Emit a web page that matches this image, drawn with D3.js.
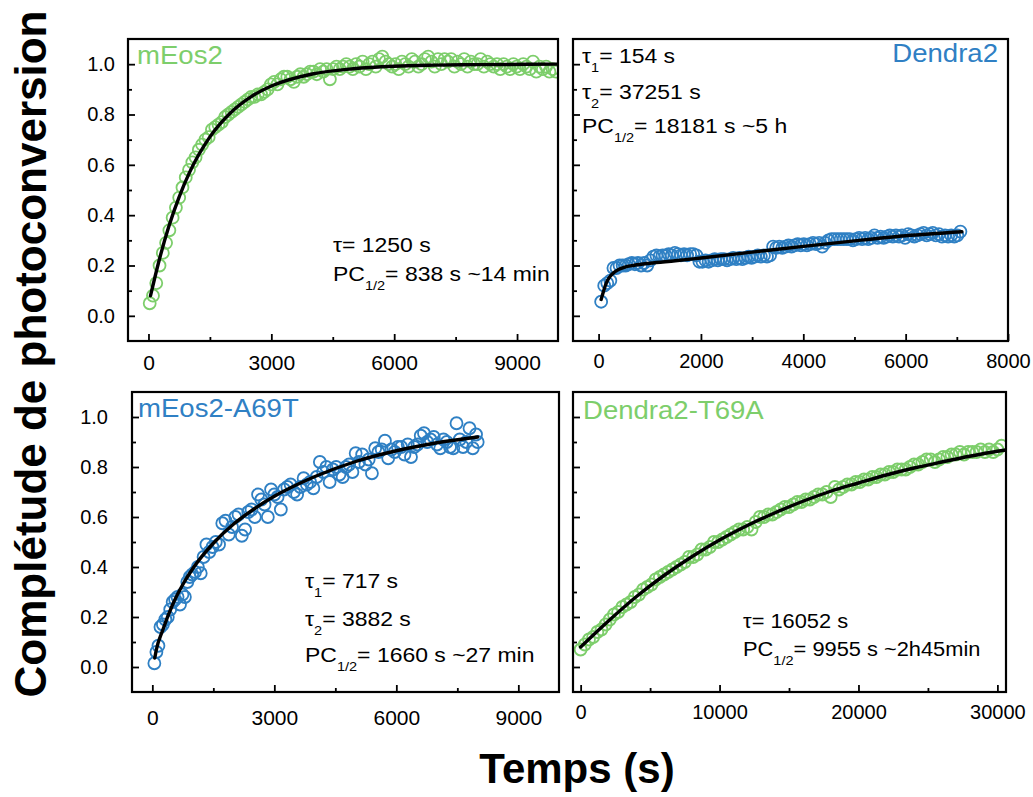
<!DOCTYPE html>
<html><head><meta charset="utf-8">
<script src="https://cdn.jsdelivr.net/npm/d3@7"></script>
<style>body{margin:0;background:#fff}</style>
</head><body>
<svg id="chart" width="1033" height="797"></svg>
<script>
// ---------------- DATA ----------------
const panelTitles = ["mEos2", "Dendra2", "mEos2-A69T", "Dendra2-T69A"];
const yMajorTicks = [0, 0.2, 0.4, 0.6, 0.8, 1.0];
const yMinorTicks = [0.1, 0.3, 0.5, 0.7, 0.9];
const xMajor1 = [0, 3000, 6000, 9000];
const xMinor1 = [1500, 4500, 7500];
const xMajor2 = [0, 2000, 4000, 6000, 8000];
const xMinor2 = [1000, 3000, 5000, 7000];
const xMajor3 = [0, 3000, 6000, 9000];
const xMinor3 = [1500, 4500, 7500];
const xMajor4 = [0, 10000, 20000, 30000];
const xMinor4 = [5000, 15000, 25000];
const xAxisLabel = "Temps (s)";
const yAxisLabel = "Complétude de photoconversion";

// annotations: [text, isSubscript]
const notes1 = [[["τ",0],["= 1250 s",0]], [["PC",0],["1/2",1],["= 838 s ~14 min",0]]];
const notes2 = [[["τ",0],["1",1],["= 154 s",0]], [["τ",0],["2",1],["= 37251 s",0]], [["PC",0],["1/2",1],["= 18181 s ~5 h",0]]];
const notes3 = [[["τ",0],["1",1],["= 717 s",0]], [["τ",0],["2",1],["= 3882 s",0]], [["PC",0],["1/2",1],["= 1660 s ~27 min",0]]];
const notes4 = [[["τ",0],["= 16052 s",0]], [["PC",0],["1/2",1],["= 9955 s ~2h45min",0]]];

// mEos2
const mEos2_t = [30,110,190,270,350,430,510,590,670,750,830,910,990,1070,1150,1230,1310,1390,1470,1550,1630,1710,1790,1870,1950,2030,2110,2190,2270,2350,2430,2510,2590,2670,2750,2830,2910,2990,3070,3150,3230,3310,3390,3470,3550,3630,3710,3790,3870,3950,4030,4110,4190,4270,4350,4430,4510,4590,4670,4750,4830,4910,4990,5070,5150,5230,5310,5390,5470,5550,5630,5710,5790,5870,5950,6030,6110,6190,6270,6350,6430,6510,6590,6670,6750,6830,6910,6990,7070,7150,7230,7310,7390,7470,7550,7630,7710,7790,7870,7950,8030,8110,8190,8270,8350,8430,8510,8590,8670,8750,8830,8910,8990,9070,9150,9230,9310,9390,9470,9550,9630,9710,9790,9870,9950];
const mEos2_v = [0.05,0.08,0.13,0.20,0.25,0.29,0.34,0.39,0.43,0.47,
0.51,0.55,0.58,0.61,0.63,0.66,0.68,0.70,0.71,0.74,
0.75,0.76,0.77,0.79,0.80,0.81,0.82,0.83,0.84,0.85,
0.86,0.87,0.87,0.88,0.88,0.89,0.90,0.92,0.93,0.92,
0.94,0.95,0.95,0.94,0.93,0.95,0.96,0.95,0.96,0.97,
0.97,0.96,0.98,0.97,0.98,0.94,0.98,0.99,0.98,0.99,
1.00,0.99,0.98,1.00,0.99,1.01,0.98,1.00,1.01,0.99,
1.02,1.03,1.01,1.00,0.99,1.00,0.98,1.01,1.00,0.99,
1.02,1.01,0.99,1.00,1.02,1.03,1.01,0.99,1.02,1.00,
1.02,1.01,1.02,0.99,1.01,1.00,1.02,0.99,1.01,1.00,
1.00,1.02,0.99,1.01,1.00,0.99,1.00,0.98,1.00,0.99,
0.98,1.00,0.99,0.98,1.00,0.99,0.98,1.01,0.97,0.99,
0.98,0.99,0.97,0.98,0.97];
const mEos2_fit_t = [50,250,500,750,1000,1500,2000,2500,3000,4000,5000,6000,7000,8000,10000];
const mEos2_fit_v = [0.08,0.214,0.357,0.473,0.569,0.711,0.806,0.870,0.913,0.961,0.982,0.992,0.996,0.998,1.0];

// Dendra2
const dendra2_t = [50,110,170,230,290,350,410,470,530,590,650,710,770,830,890,950,1010,1070,1130,1190,1250,1310,1370,1430,1490,1550,1610,1670,1730,1790,1850,1910,1970,2030,2090,2150,2210,2270,2330,2390,2450,2510,2570,2630,2690,2750,2810,2870,2930,2990,3050,3110,3170,3230,3290,3350,3410,3470,3530,3590,3650,3710,3770,3830,3890,3950,4010,4070,4130,4190,4250,4310,4370,4430,4490,4550,4610,4670,4730,4790,4850,4910,4970,5030,5090,5150,5210,5270,5330,5390,5450,5510,5570,5630,5690,5750,5810,5870,5930,5990,6050,6110,6170,6230,6290,6350,6410,6470,6530,6590,6650,6710,6770,6830,6890,6950,7010,7070];
const dendra2_v = [0.056,0.12,0.13,0.14,0.19,0.19,0.20,0.20,0.20,0.205,
0.21,0.205,0.21,0.20,0.21,0.20,0.22,0.235,0.24,0.235,
0.24,0.24,0.245,0.24,0.25,0.245,0.24,0.245,0.24,0.245,
0.245,0.24,0.215,0.215,0.22,0.215,0.22,0.225,0.22,0.225,
0.225,0.22,0.225,0.23,0.225,0.23,0.225,0.23,0.235,0.23,
0.235,0.24,0.235,0.24,0.235,0.24,0.275,0.27,0.275,0.27,
0.275,0.28,0.275,0.28,0.285,0.28,0.285,0.28,0.285,0.29,
0.285,0.29,0.275,0.29,0.30,0.305,0.305,0.305,0.305,0.305,
0.305,0.305,0.30,0.305,0.31,0.305,0.31,0.305,0.31,0.32,
0.31,0.315,0.31,0.315,0.32,0.315,0.32,0.315,0.32,0.31,
0.325,0.32,0.315,0.32,0.325,0.33,0.32,0.325,0.33,0.32,
0.325,0.315,0.32,0.315,0.32,0.315,0.32,0.335];
const dendra2_fit_t = [50,100,150,200,300,400,500,700,1000,1500,2000,3000,4000,5000,6000,7100];
const dendra2_fit_v = [0.065,0.10,0.13,0.15,0.172,0.185,0.193,0.201,0.209,0.219,0.23,0.253,0.276,0.298,0.318,0.334];

// mEos2-A69T
const a69t_t = [50,100,150,200,260,320,380,440,500,560,620,680,740,800,860,920,980,1050,1120,1190,1260,1330,1400,1480,1560,1640,1720,1800,1880,1960,2040,2120,2200,2280,2360,2440,2520,2600,2680,2760,2840,2920,3000,3080,3160,3240,3320,3400,3480,3560,3640,3720,3800,3880,3960,4040,4120,4200,4280,4360,4440,4520,4600,4680,4760,4840,4920,5000,5080,5160,5240,5320,5400,5480,5560,5640,5720,5800,5880,5960,6040,6120,6200,6280,6360,6440,6520,6600,6680,6760,6840,6920,7000,7080,7160,7240,7320,7400,7480,7560,7640,7720,7800,7880,7960,8000];
const a69t_v = [0.015,0.06,0.085,0.16,0.17,0.19,0.20,0.23,0.26,0.27,
0.28,0.25,0.29,0.28,0.34,0.36,0.37,0.38,0.40,0.375,
0.44,0.49,0.46,0.48,0.50,0.49,0.575,0.585,0.53,0.56,
0.60,0.61,0.525,0.55,0.62,0.63,0.60,0.69,0.67,0.65,
0.60,0.71,0.69,0.68,0.63,0.71,0.72,0.73,0.70,0.69,
0.72,0.755,0.73,0.74,0.715,0.76,0.82,0.78,0.80,0.74,
0.79,0.80,0.77,0.76,0.80,0.81,0.78,0.855,0.82,0.85,
0.81,0.83,0.775,0.875,0.86,0.87,0.905,0.835,0.87,0.86,
0.88,0.88,0.85,0.89,0.84,0.88,0.89,0.925,0.935,0.90,
0.91,0.92,0.89,0.875,0.91,0.90,0.88,0.875,0.975,0.91,
0.88,0.90,0.955,0.875,0.93,0.90];
const a69t_fit_t = [60,100,250,500,750,1000,1500,2000,2500,3000,3500,4000,5000,6000,7000,8000];
const a69t_fit_v = [0.036,0.07,0.145,0.25,0.33,0.395,0.495,0.572,0.632,0.683,0.725,0.762,0.822,0.865,0.897,0.92];

// Dendra2-T69A
const t69a_t = [0,300,600,900,1200,1500,1800,2100,2400,2700,3000,3300,3600,3900,4200,4500,4800,5100,5400,5700,6000,6300,6600,6900,7200,7500,7800,8100,8400,8700,9000,9300,9600,9900,10200,10500,10800,11100,11400,11700,12000,12300,12600,12900,13200,13500,13800,14100,14400,14700,15000,15300,15600,15900,16200,16500,16800,17100,17400,17700,18000,18300,18600,18900,19200,19500,19800,20100,20400,20700,21000,21300,21600,21900,22200,22500,22800,23100,23400,23700,24000,24300,24600,24900,25200,25500,25800,26100,26400,26700,27000,27300,27600,27900,28200,28500,28800,29100,29400,29700,30000,30300];
const t69a_v = [0.07,0.09,0.11,0.12,0.14,0.15,0.17,0.19,0.21,0.22,
0.24,0.25,0.26,0.28,0.29,0.31,0.32,0.33,0.35,0.36,
0.37,0.38,0.39,0.40,0.41,0.42,0.44,0.44,0.45,0.47,
0.47,0.48,0.50,0.50,0.51,0.52,0.53,0.54,0.55,0.55,
0.56,0.55,0.58,0.60,0.60,0.61,0.61,0.62,0.63,0.64,
0.64,0.65,0.66,0.66,0.67,0.67,0.68,0.69,0.69,0.70,
0.68,0.72,0.71,0.72,0.73,0.73,0.74,0.74,0.75,0.75,
0.76,0.76,0.77,0.77,0.78,0.78,0.79,0.79,0.79,0.80,
0.81,0.81,0.82,0.83,0.83,0.82,0.83,0.84,0.84,0.85,
0.85,0.86,0.85,0.86,0.86,0.86,0.87,0.86,0.87,0.86,
0.87,0.885];
const t69a_fit_t = [0,2000,4000,6000,8000,10000,12000,14000,16000,18000,20000,22000,24000,26000,28000,30000,30600];
const t69a_fit_v = [0.08,0.184,0.281,0.366,0.441,0.508,0.566,0.617,0.663,0.703,0.736,0.768,0.796,0.82,0.843,0.863,0.868];

// ---------------- DRAWING ----------------
const GREEN = "#7dce6b", BLUE = "#2f80c4";
const F = "'Liberation Sans', Arial, Helvetica, sans-serif";
const svg = d3.select("#chart");

const panels = [
  {box:[128,39,558,341], xd:[-500,10000], xMaj:xMajor1, xMin:xMinor1, yLab:true, yPad:13, xBase:370, xFont:21,
   t:mEos2_t, v:mEos2_v, ft:mEos2_fit_t, fv:mEos2_fit_v, color:GREEN, title:panelTitles[0], tx:137, ty:64, anchor:"start",
   notes:notes1, nx:333, ny:[252,281], nFont:20.5},
  {box:[573,39,1008,341], xd:[-500,8000], xMaj:xMajor2, xMin:xMinor2, yLab:false, xBase:368, xFont:20,
   t:dendra2_t, v:dendra2_v, ft:dendra2_fit_t, fv:dendra2_fit_v, color:BLUE, title:panelTitles[1], tx:998, ty:62, anchor:"end",
   notes:notes2, nx:582, ny:[63,99,133], nFont:20.5},
  {box:[132,392,559,692], xd:[-500,10000], xMaj:xMajor3, xMin:xMinor3, yLab:true, yPad:24, xBase:725, xFont:21,
   t:a69t_t, v:a69t_v, ft:a69t_fit_t, fv:a69t_fit_v, color:BLUE, title:panelTitles[2], tx:138, ty:417, anchor:"start",
   notes:notes3, nx:305, ny:[588,626,662], nFont:20.5},
  {box:[573,392,1006,692], xd:[-550,30620], xMaj:xMajor4, xMin:xMinor4, yLab:false, xBase:719, xFont:20,
   t:t69a_t, v:t69a_v, ft:t69a_fit_t, fv:t69a_fit_v, color:GREEN, title:panelTitles[3], tx:583, ty:419, anchor:"start",
   notes:notes4, nx:743, ny:[628,656], nFont:19.5}
];

panels.forEach((p, i) => {
  const [x0,y0,x1,y1] = p.box;
  const x = d3.scaleLinear().domain(p.xd).range([x0,x1]);
  const y = d3.scaleLinear().domain([-0.1,1.1]).range([y1,y0]);
  const g = svg.append("g");

  const clipId = "clip"+i;
  svg.append("clipPath").attr("id", clipId).append("rect")
    .attr("x", x0).attr("y", y0).attr("width", x1-x0).attr("height", y1-y0);

  // y axis ticks (inward)
  const yMajAx = d3.axisLeft(y).tickValues(yMajorTicks).tickSize(-7)
      .tickPadding(p.yLab ? p.yPad : 0).tickFormat(p.yLab ? d3.format(".1f") : "");
  const yMinAx = d3.axisLeft(y).tickValues(yMinorTicks).tickSize(-4).tickFormat("");
  const ga = g.append("g").attr("transform", `translate(${x0},0)`).call(yMajAx);
  const gb = g.append("g").attr("transform", `translate(${x0},0)`).call(yMinAx);
  // x axis ticks (inward)
  const xMajAx = d3.axisBottom(x).tickValues(p.xMaj).tickSize(-7).tickPadding(0).tickFormat(d3.format("d"));
  const xMinAx = d3.axisBottom(x).tickValues(p.xMin).tickSize(-4).tickFormat("");
  const gc = g.append("g").attr("transform", `translate(0,${y1})`).call(xMajAx);
  const gd = g.append("g").attr("transform", `translate(0,${y1})`).call(xMinAx);
  [ga,gb,gc,gd].forEach(s => {
    s.select(".domain").remove();
    s.selectAll(".tick line").attr("stroke","#000").attr("stroke-width",1.8);
  });
  ga.selectAll(".tick text").attr("font-family",F).attr("font-size",20).attr("fill","#000");
  gc.selectAll(".tick text").attr("font-family",F).attr("font-size",p.xFont).attr("fill","#000")
    .attr("dy",null).attr("y", p.xBase - y1);

  // data points
  const pts = p.t.map((t,k) => [t, p.v[k]]);
  g.append("g").attr("clip-path", `url(#${clipId})`).selectAll("circle").data(pts).join("circle")
    .attr("cx", d => x(d[0])).attr("cy", d => y(d[1])).attr("r", 6)
    .attr("fill","none").attr("stroke", p.color).attr("stroke-width", 1.8);

  // fit line
  const fit = p.ft.map((t,k) => [t, p.fv[k]]);
  g.append("path").datum(fit).attr("clip-path", `url(#${clipId})`)
    .attr("d", d3.line().x(d => x(d[0])).y(d => y(d[1])).curve(d3.curveMonotoneX))
    .attr("fill","none").attr("stroke","#000").attr("stroke-width",3.4).attr("stroke-linecap","round");

  // frame
  g.append("rect").attr("x",x0).attr("y",y0).attr("width",x1-x0).attr("height",y1-y0)
    .attr("fill","none").attr("stroke","#000").attr("stroke-width",2.2);

  // title (slightly wide lettering as in the original)
  g.append("text").attr("transform",`translate(${p.tx},${p.ty}) scale(1.06,1)`).attr("text-anchor",p.anchor)
    .attr("font-family",F).attr("font-size",26).attr("fill",p.color).text(p.title);

  // annotations
  p.notes.forEach((line, li) => {
    const txt = g.append("text").attr("transform",`translate(${p.nx},${p.ny[li]}) scale(1.12,1)`)
      .attr("font-family",F).attr("font-size",p.nFont).attr("fill","#000");
    let prevSub = false;
    line.forEach(([s, sub]) => {
      const ts = txt.append("tspan").text(s);
      if (sub) { ts.attr("font-size",13).attr("dy",9); prevSub = true; }
      else if (prevSub) { ts.attr("dy",-9); prevSub = false; }
    });
  });
});

// axis titles
svg.append("text").attr("transform","translate(46,354) rotate(-90)").attr("text-anchor","middle")
  .attr("font-family",F).attr("font-weight","bold").attr("font-size",44).attr("fill","#000").text(yAxisLabel);
svg.append("text").attr("x",577).attr("y",783).attr("text-anchor","middle")
  .attr("font-family",F).attr("font-weight","bold").attr("font-size",42).attr("fill","#000").text(xAxisLabel);
</script>
</body></html>
